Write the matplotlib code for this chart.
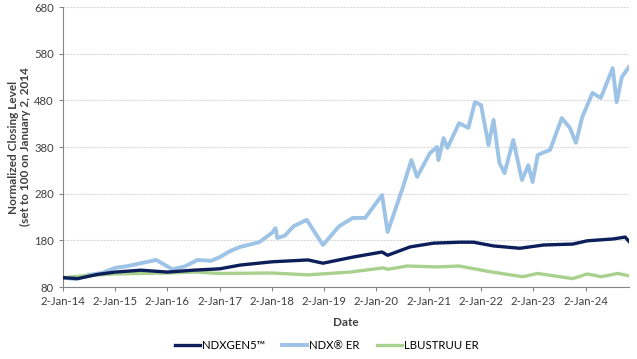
import pandas as pd
import matplotlib
matplotlib.use('Agg')
import matplotlib.pyplot as plt

plt.rcParams['font.family'] = ['Lato', 'DejaVu Sans']

# NDX ER (light blue)
ndx_dates = ['2014-01-02', '2014-04-01', '2014-07-01', '2014-10-01', '2015-01-02',
             '2015-04-01', '2015-07-01', '2015-10-15', '2016-02-05', '2016-05-01',
             '2016-08-01', '2016-11-01', '2017-01-02', '2017-03-15', '2017-05-25',
             '2017-10-05', '2018-01-02', '2018-01-26', '2018-02-08', '2018-04-01',
             '2018-06-01', '2018-09-01', '2018-12-24', '2019-04-15', '2019-07-20',
             '2019-10-15', '2020-02-10', '2020-03-20', '2020-07-05', '2020-09-02',
             '2020-10-12', '2021-01-10', '2021-02-28', '2021-03-10', '2021-04-15',
             '2021-05-12', '2021-08-01', '2021-10-05', '2021-11-20', '2022-01-02',
             '2022-02-23', '2022-03-30', '2022-05-10', '2022-06-15', '2022-08-15',
             '2022-10-15', '2022-11-28', '2022-12-28', '2023-02-02', '2023-04-30',
             '2023-07-20', '2023-09-15', '2023-10-27', '2023-12-10', '2024-02-20',
             '2024-04-18', '2024-07-10', '2024-08-07', '2024-09-12', '2024-10-31']
ndx_vals = [100, 97, 106, 110, 121,
            125, 131, 138, 118, 124,
            138, 136, 144, 157, 166,
            176, 196, 206, 185, 190,
            210, 224, 170, 210, 228,
            228, 277, 198, 294, 352,
            316, 367, 380, 352, 399,
            378, 431, 421, 476, 470,
            384, 438, 346, 324, 395,
            309, 341, 305, 363, 374,
            442, 421, 389, 444, 496,
            485, 549, 476, 530, 551]

# NDXGEN5 (navy)
gen_dates = ['2014-01-02', '2014-04-15', '2014-09-01', '2015-01-02', '2015-07-01',
             '2016-01-02', '2016-07-01', '2017-01-02', '2017-05-25', '2018-01-02',
             '2018-09-10', '2018-12-24', '2019-07-20', '2020-02-10', '2020-03-20',
             '2020-08-25', '2021-02-05', '2021-08-05', '2021-11-10', '2022-03-30',
             '2022-09-30', '2023-03-15', '2023-10-05', '2024-01-15', '2024-07-15',
             '2024-10-05', '2024-10-31']
gen_vals = [100, 98, 107, 112, 116,
            112, 116, 119, 127, 134,
            138, 131, 144, 155, 148,
            166, 174, 176, 176, 168,
            163, 170, 172, 179, 183,
            187, 178]

# LBUSTRUU ER (green)
agg_dates = ['2014-01-02', '2014-06-01', '2015-01-02', '2016-01-02', '2016-07-15',
             '2017-01-02', '2018-01-02', '2018-09-10', '2019-07-01', '2020-02-20',
             '2020-03-20', '2020-08-05', '2021-03-01', '2021-08-01', '2022-03-01',
             '2022-10-20', '2023-02-01', '2023-10-05', '2024-01-15', '2024-04-20',
             '2024-08-15', '2024-10-31']
agg_vals = [100, 104, 108, 110, 112,
            109, 110, 106, 112, 121,
            118, 125, 123, 125, 113,
            102, 109, 98, 108, 102,
            109, 104]

tick_dates = ['2014-01-02', '2015-01-02', '2016-01-02', '2017-01-02', '2018-01-02',
              '2019-01-02', '2020-01-02', '2021-01-02', '2022-01-02', '2023-01-02',
              '2024-01-02']
tick_labels = ['2-Jan-14', '2-Jan-15', '2-Jan-16', '2-Jan-17', '2-Jan-18',
               '2-Jan-19', '2-Jan-20', '2-Jan-21', '2-Jan-22', '2-Jan-23',
               '2-Jan-24']
y_ticks = [80, 180, 280, 380, 480, 580, 680]

text_col = '#404040'

fig = plt.figure(figsize=(6.37, 3.59), dpi=100)
ax = fig.add_axes([63 / 637, 1 - 287 / 359, 566 / 637, 280 / 359])

ax.plot(pd.to_datetime(gen_dates), gen_vals, color='#0C1F5B', lw=2.4, label='NDXGEN5\u2122', zorder=3)
ax.plot(pd.to_datetime(ndx_dates), ndx_vals, color='#9DC3E6', lw=2.8, label='NDX\u00ae ER', zorder=2)
ax.plot(pd.to_datetime(agg_dates), agg_vals, color='#A9D18E', lw=2.4, label='LBUSTRUU ER', zorder=2)

ax.set_ylim(80, 680)
ax.set_xlim(pd.Timestamp('2014-01-02'), pd.Timestamp('2024-11-01'))
ax.set_yticks(y_ticks)
ax.set_xticks(pd.to_datetime(tick_dates))
ax.set_xticklabels(tick_labels)
ax.grid(axis='y', color='#D9D9D9', linestyle=(0, (2, 1)), lw=0.8)
ax.set_axisbelow(True)

for s in ['top', 'right']:
    ax.spines[s].set_visible(False)
for s in ['left', 'bottom']:
    ax.spines[s].set_color('#868686')
ax.tick_params(colors=text_col, labelsize=8.2, length=3, width=0.8)
ax.tick_params(axis='x', color='#868686')
ax.tick_params(axis='y', color='#868686')

ax.set_xlabel('Date', fontsize=8.5, fontweight='bold', color=text_col, labelpad=7)
ax.set_ylabel('Normalized Closing Level\n(set to 100 on January 2, 2014', fontsize=8.5,
              fontweight='bold', color=text_col, labelpad=2)

fig.legend(loc='center', bbox_to_anchor=(0.513, 0.037), ncol=3, frameon=False,
           fontsize=8.2, handlelength=2.2, columnspacing=1.5, handletextpad=0.2,
           labelcolor='#000000')

fig.savefig('out.png', dpi=100)
